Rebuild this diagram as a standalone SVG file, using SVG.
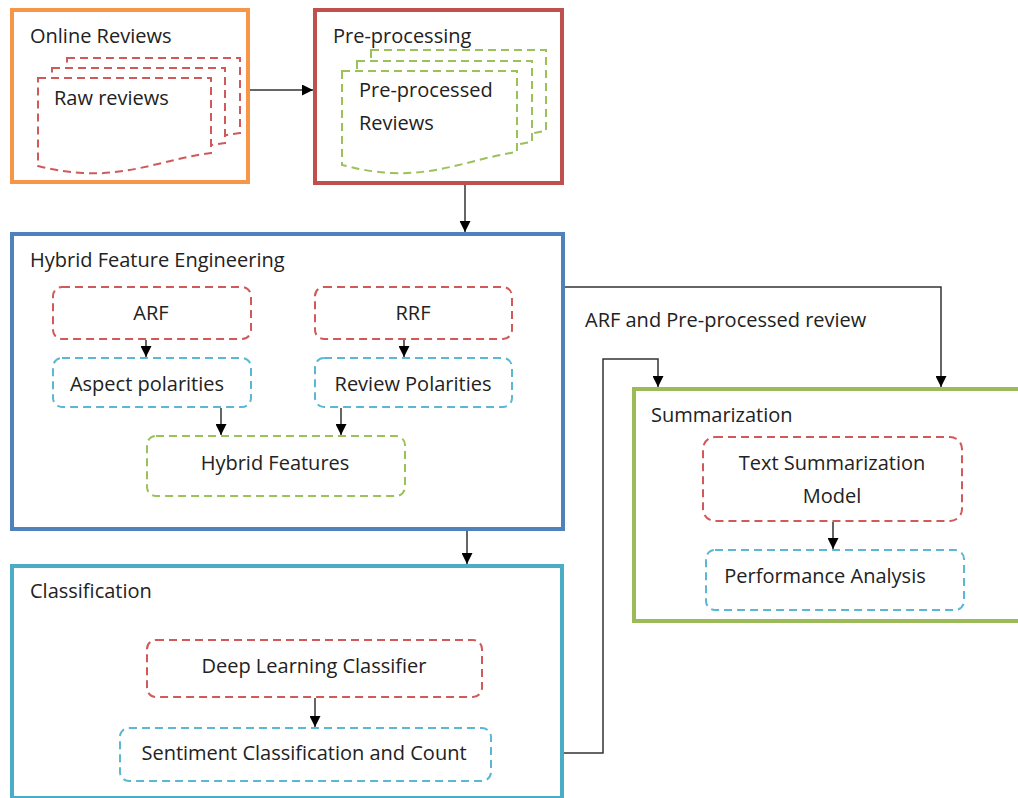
<svg xmlns="http://www.w3.org/2000/svg" width="1018" height="798" viewBox="0 0 1018 798">
<style>
text{font-family:"Open Sans","Liberation Sans",sans-serif;font-size:20px;fill:#222}
.c{text-anchor:middle}
.outer{fill:#fff;stroke-width:4}
.dash{fill:#fff;stroke-width:2;stroke-dasharray:8 5}
.dr{stroke:#D0595A}
.dc{stroke:#5BB8D4}
.dg{stroke:#9BC15A}
.conn{fill:none;stroke:#333;stroke-width:1.5}
</style>
<defs>
<marker id="ah" viewBox="0 0 10 10" refX="10" refY="5" markerWidth="11" markerHeight="11" markerUnits="userSpaceOnUse" orient="auto">
<path d="M0,0 L10,5 L0,10 Z" fill="#000"/>
</marker>
<path id="rdoc" d="M0,0 H173 V75 C132,80 92,98 45,95 C27,94 12,91 0,88 Z"/>
<path id="gdoc" d="M0,0 H175 V81 C133,87 98,104 50,102 C28,101 13,97 0,94 Z"/>
</defs>

<g id="online-reviews">
<rect class="outer" x="12" y="10" width="236" height="172" stroke="#F79646"/>
<text x="30" y="43">Online Reviews</text>
<use href="#rdoc" x="67" y="58" class="dash dr"/>
<use href="#rdoc" x="52" y="68" class="dash dr"/>
<use href="#rdoc" x="38" y="78" class="dash dr"/>
<text x="54" y="105">Raw reviews</text>
</g>

<g id="pre-processing">
<rect class="outer" x="315" y="10" width="247" height="173" stroke="#C0504D"/>
<text x="333" y="43">Pre-processing</text>
<use href="#gdoc" x="371" y="50" class="dash dg"/>
<use href="#gdoc" x="357" y="61" class="dash dg"/>
<use href="#gdoc" x="342" y="71" class="dash dg"/>
<text x="359" y="97">Pre-processed</text>
<text x="359" y="130">Reviews</text>
</g>

<g id="hybrid-feature-engineering">
<rect class="outer" x="12" y="234" width="551" height="295" stroke="#4F81BD"/>
<text x="30" y="267">Hybrid Feature Engineering</text>
</g>
<g id="arf">
<rect class="dash dr" x="53" y="287" width="198" height="52" rx="9"/>
<text class="c" x="151" y="320">ARF</text>
</g>
<g id="rrf">
<rect class="dash dr" x="315" y="287" width="197" height="52" rx="9"/>
<text class="c" x="413" y="320">RRF</text>
</g>
<g id="aspect-polarities">
<rect class="dash dc" x="53" y="358" width="198" height="49" rx="9"/>
<text class="c" x="147" y="391">Aspect polarities</text>
</g>
<g id="review-polarities">
<rect class="dash dc" x="315" y="358" width="197" height="49" rx="9"/>
<text class="c" x="413" y="391">Review Polarities</text>
</g>
<g id="hybrid-features">
<rect class="dash dg" x="147" y="436" width="258" height="60" rx="9"/>
<text class="c" x="275" y="470">Hybrid Features</text>
</g>

<g id="classification">
<rect class="outer" x="12" y="566" width="550" height="232" stroke="#4BACC6"/>
<text x="30" y="598">Classification</text>
</g>
<g id="deep-learning-classifier">
<rect class="dash dr" x="147" y="640" width="335" height="57" rx="9"/>
<text class="c" x="314" y="673">Deep Learning Classifier</text>
</g>
<g id="sentiment-classification">
<rect class="dash dc" x="120" y="728" width="371" height="53" rx="9"/>
<text class="c" x="304" y="760">Sentiment Classification and Count</text>
</g>

<g id="summarization">
<rect class="outer" x="634" y="389" width="386" height="232" stroke="#9BBB59"/>
<text x="651" y="422">Summarization</text>
</g>
<g id="text-summarization-model">
<rect class="dash dr" x="703" y="437" width="259" height="84" rx="12"/>
<text class="c" x="832" y="470">Text Summarization</text>
<text class="c" x="832" y="503">Model</text>
</g>
<g id="performance-analysis">
<rect class="dash dc" x="706" y="550" width="258" height="60" rx="9"/>
<text class="c" x="825" y="583">Performance Analysis</text>
</g>

<g id="connectors">
<path class="conn" d="M250,90 H313" marker-end="url(#ah)"/>
<path class="conn" d="M465,185 V232" marker-end="url(#ah)"/>
<path class="conn" d="M467,531 V564" marker-end="url(#ah)"/>
<path class="conn" d="M565,287 H941 V387" marker-end="url(#ah)"/>
<path class="conn" d="M564,753 H603 V359 H658 V387" marker-end="url(#ah)"/>
<path class="conn" d="M146,340 V357" marker-end="url(#ah)"/>
<path class="conn" d="M404,340 V357" marker-end="url(#ah)"/>
<path class="conn" d="M221,408 V435" marker-end="url(#ah)"/>
<path class="conn" d="M341,408 V435" marker-end="url(#ah)"/>
<path class="conn" d="M315,698 V727" marker-end="url(#ah)"/>
<path class="conn" d="M833,522 V549" marker-end="url(#ah)"/>
<text x="585" y="327">ARF and Pre-processed review</text>
</g>
</svg>
